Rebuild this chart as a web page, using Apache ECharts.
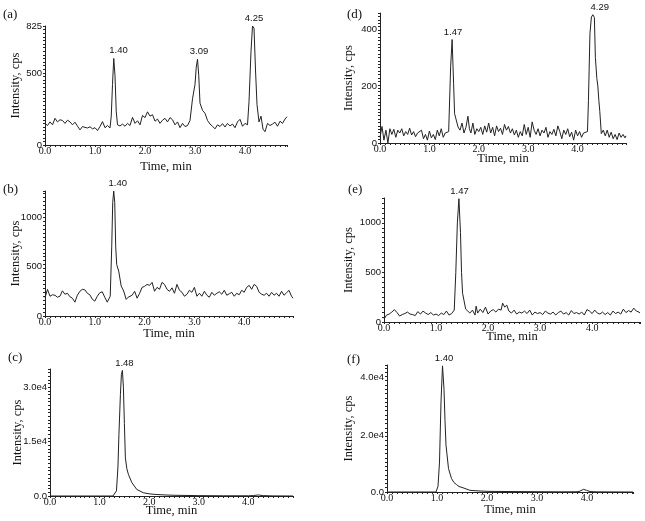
<!DOCTYPE html>
<html>
<head>
<meta charset="utf-8">
<title>Chromatograms</title>
<script src="https://cdn.jsdelivr.net/npm/echarts@6/dist/echarts.min.js"></script>
<style>
  html, body { margin: 0; padding: 0; background: #fff; }
  #myChart { width: 645px; height: 521px; }
</style>
</head>
<body>
<div id="myChart"></div>
<script>
// (a)
const aTime = [0.00, 0.05, 0.10, 0.15, 0.20, 0.25, 0.30, 0.35, 0.40, 0.45, 0.50, 0.55, 0.60, 0.65, 0.70, 0.75, 0.80, 0.85, 0.90, 0.95,
  1.00, 1.05, 1.10, 1.15, 1.20, 1.25, 1.30, 1.325, 1.35, 1.375, 1.40, 1.425, 1.45, 1.50, 1.55, 1.60, 1.65, 1.70, 1.75, 1.80,
  1.85, 1.90, 1.95, 2.00, 2.05, 2.10, 2.15, 2.20, 2.25, 2.30, 2.35, 2.40, 2.45, 2.50, 2.55, 2.60, 2.65, 2.70, 2.75, 2.80,
  2.85, 2.90, 2.95, 3.00, 3.025, 3.05, 3.075, 3.10, 3.15, 3.20, 3.25, 3.30, 3.35, 3.40, 3.45, 3.50, 3.55, 3.60, 3.65, 3.70,
  3.75, 3.80, 3.85, 3.90, 3.95, 4.00, 4.05, 4.08, 4.12, 4.15, 4.18, 4.21, 4.24, 4.28, 4.32, 4.36, 4.40, 4.45, 4.50, 4.55,
  4.60, 4.65, 4.70, 4.75, 4.80, 4.84]
const aInt = [150, 135, 160, 140, 185, 160, 175, 170, 150, 172, 160, 140, 158, 130, 105, 128, 122, 118, 126, 112,
  120, 100, 128, 162, 120, 135, 118, 200, 420, 600, 480, 230, 140, 132, 145, 130, 150, 135, 192, 150,
  168, 140, 205, 190, 230, 200, 210, 165, 180, 150, 172, 185, 160, 190, 175, 140, 160, 120, 150, 128,
  135, 170, 320, 420, 540, 595, 480, 290, 240, 220, 170, 145, 130, 112, 140, 128, 148, 125, 150, 132,
  145, 120, 160, 178, 130, 150, 140, 300, 650, 825, 810, 520, 280, 160, 200, 110, 92, 150, 135, 145,
  158, 130, 165, 150, 180, 196]
const aPeakTime = [1.47, 3.08, 4.18]
const aPeakInt = [603, 596, 825]
const aPeakText = ['1.40', '3.09', '4.25']
const aYLabels = [0, 500, 825]

// (b)
const bTime = [0.00, 0.05, 0.10, 0.15, 0.20, 0.25, 0.30, 0.35, 0.40, 0.45, 0.50, 0.55, 0.60, 0.65, 0.70, 0.75, 0.80, 0.85, 0.90, 0.95,
  1.00, 1.05, 1.10, 1.15, 1.20, 1.25, 1.28, 1.31, 1.34, 1.36, 1.38, 1.40, 1.42, 1.44, 1.48, 1.53, 1.58, 1.63, 1.67, 1.71,
  1.75, 1.80, 1.85, 1.90, 1.95, 2.00, 2.05, 2.10, 2.15, 2.20, 2.25, 2.30, 2.35, 2.40, 2.45, 2.50, 2.55, 2.60, 2.65, 2.70,
  2.75, 2.80, 2.85, 2.90, 2.95, 3.00, 3.05, 3.10, 3.15, 3.20, 3.25, 3.30, 3.35, 3.40, 3.45, 3.50, 3.55, 3.60, 3.65, 3.70,
  3.75, 3.80, 3.85, 3.90, 3.95, 4.00, 4.05, 4.10, 4.15, 4.20, 4.25, 4.30, 4.35, 4.40, 4.45, 4.50, 4.55, 4.60, 4.65, 4.70,
  4.75, 4.80, 4.85, 4.90, 4.95, 4.98]
const bInt = [185, 270, 200, 215, 210, 190, 200, 255, 220, 230, 195, 180, 140, 210, 250, 270, 265, 230, 215, 170,
  150, 200, 235, 245, 190, 140, 160, 200, 700, 1150, 1264, 1150, 700, 520, 455, 303, 253, 168, 190, 175,
  210, 250, 180, 230, 290, 300, 320, 310, 340, 250, 290, 270, 340, 320, 270, 250, 285, 230, 320, 260,
  240, 200, 220, 260, 240, 290, 200, 230, 200, 250, 210, 190, 240, 210, 230, 245, 220, 260, 210, 225,
  240, 200, 230, 215, 260, 240, 290, 310, 270, 320, 300, 240, 220, 210, 230, 200, 240, 210, 230, 200,
  250, 210, 235, 260, 200, 180]
const bPeakTime = [1.46]
const bPeakInt = [1264]
const bPeakText = ['1.40']
const bYLabels = [0, 500, 1000]

// (c)
const cTime = [0.00, 1.00, 1.27, 1.30, 1.34, 1.37, 1.39, 1.42, 1.44, 1.46, 1.48, 1.50, 1.52, 1.55, 1.58, 1.65, 1.75, 1.88, 2.00, 2.10,
  2.30, 2.50, 3.00, 3.50, 4.00, 4.10, 4.20, 4.30, 4.50, 4.90]
const cInt = [0, 0, 0, 400, 1400, 8000, 17000, 28000, 33500, 34600, 30000, 20000, 10500, 7500, 6000, 3700, 1800, 900, 600, 460,
  300, 200, 100, 60, 60, 120, 280, 100, 30, 0]
const cPeakTime = [1.50]
const cPeakInt = [34600]
const cPeakText = ['1.48']
const cYLabels = [0, 15000, 30000]

// (d)
const dTime = [0.00, 0.04, 0.08, 0.12, 0.16, 0.20, 0.24, 0.28, 0.32, 0.36, 0.40, 0.44, 0.48, 0.52, 0.56, 0.60, 0.64, 0.68, 0.72, 0.76,
  0.80, 0.84, 0.88, 0.92, 0.96, 1.00, 1.04, 1.08, 1.12, 1.16, 1.20, 1.24, 1.28, 1.32, 1.36, 1.39, 1.43, 1.46, 1.49, 1.51,
  1.54, 1.58, 1.62, 1.66, 1.70, 1.74, 1.78, 1.81, 1.84, 1.88, 1.92, 1.96, 2.00, 2.04, 2.08, 2.12, 2.16, 2.20, 2.24, 2.28,
  2.32, 2.36, 2.40, 2.44, 2.48, 2.52, 2.56, 2.60, 2.64, 2.68, 2.72, 2.76, 2.80, 2.84, 2.88, 2.92, 2.96, 3.00, 3.04, 3.08,
  3.12, 3.16, 3.20, 3.24, 3.28, 3.32, 3.36, 3.40, 3.44, 3.48, 3.52, 3.56, 3.60, 3.64, 3.68, 3.72, 3.76, 3.80, 3.84, 3.88,
  3.92, 3.96, 4.00, 4.04, 4.08, 4.12, 4.16, 4.20, 4.22, 4.25, 4.28, 4.31, 4.34, 4.36, 4.39, 4.41, 4.43, 4.45, 4.48, 4.52,
  4.56, 4.60, 4.64, 4.68, 4.72, 4.76, 4.80, 4.84, 4.88, 4.92, 4.96, 4.98]
const dInt = [20, 58, 10, 45, 0, 50, 30, 48, 20, 45, 35, 50, 25, 40, 30, 52, 28, 40, 22, 35,
  28, 45, 15, 30, 10, 42, 18, 30, 12, 45, 25, 50, 20, 35, 30, 40, 267, 363, 208, 103,
  97, 56, 45, 70, 35, 55, 94, 50, 35, 70, 30, 50, 40, 55, 30, 60, 38, 70, 35, 55,
  25, 60, 40, 52, 30, 65, 45, 58, 35, 50, 28, 45, 20, 40, 25, 65, 30, 55, 20, 74,
  45, 30, 50, 25, 45, 35, 55, 20, 40, 30, 48, 25, 60, 40, 15, 45, 30, 50, 22, 38,
  10, 45, 25, 40, 20, 35, 30, 40, 150, 384, 442, 450, 440, 300, 226, 200, 150, 110, 33, 45,
  25, 45, 20, 38, 15, 30, 12, 35, 20, 30, 18, 25]
const dPeakTime = [1.48, 4.45]
const dPeakInt = [363, 450]
const dPeakText = ['1.47', '4.29']
const dYLabels = [0, 200, 400]

// (e)
const eTime = [0.00, 0.05, 0.10, 0.15, 0.20, 0.25, 0.30, 0.35, 0.40, 0.45, 0.50, 0.55, 0.60, 0.65, 0.70, 0.75, 0.80, 0.85, 0.90, 0.95,
  1.00, 1.05, 1.10, 1.15, 1.20, 1.25, 1.30, 1.35, 1.38, 1.41, 1.44, 1.47, 1.49, 1.51, 1.54, 1.57, 1.60, 1.65, 1.70, 1.75,
  1.77, 1.80, 1.85, 1.90, 1.95, 2.00, 2.05, 2.10, 2.15, 2.20, 2.25, 2.28, 2.32, 2.36, 2.40, 2.45, 2.50, 2.55, 2.60, 2.65,
  2.70, 2.75, 2.80, 2.85, 2.90, 2.95, 3.00, 3.05, 3.10, 3.15, 3.20, 3.25, 3.30, 3.35, 3.40, 3.45, 3.50, 3.55, 3.60, 3.65,
  3.70, 3.75, 3.80, 3.85, 3.90, 3.95, 4.00, 4.05, 4.10, 4.15, 4.20, 4.25, 4.30, 4.35, 4.40, 4.45, 4.50, 4.55, 4.60, 4.65,
  4.70, 4.75, 4.80, 4.85, 4.90, 4.92]
const eInt = [30, 70, 80, 100, 125, 95, 60, 75, 85, 100, 80, 75, 65, 105, 80, 110, 90, 75, 95, 70,
  80, 65, 90, 75, 110, 70, 85, 120, 500, 1000, 1243, 900, 500, 290, 270, 130, 110, 90, 120, 70,
  160, 90, 130, 95, 150, 80, 110, 125, 100, 130, 120, 190, 150, 170, 110, 90, 120, 80, 100, 90,
  110, 85, 120, 70, 100, 85, 95, 75, 110, 90, 80, 100, 70, 95, 110, 80, 95, 70, 115, 85,
  95, 80, 100, 70, 125, 110, 85, 120, 90, 80, 100, 75, 95, 70, 110, 85, 100, 80, 130, 95,
  115, 100, 140, 110, 100, 90]
const ePeakTime = [1.45]
const ePeakInt = [1243]
const ePeakText = ['1.47']
const eYLabels = [0, 500, 1000]

// (f)
const fTime = [0.00, 0.98, 1.02, 1.05, 1.08, 1.11, 1.14, 1.16, 1.18, 1.23, 1.29, 1.34, 1.39, 1.44, 1.47, 1.50, 1.54, 1.66, 1.80, 2.00,
  2.50, 3.00, 3.50, 3.80, 3.86, 3.93, 3.99, 4.06, 4.20, 4.92]
const fInt = [0, 0, 2000, 10500, 31600, 44200, 36000, 25000, 16400, 8200, 4700, 3300, 2600, 1900, 2100, 1600, 940, 585, 400, 230,
  150, 100, 60, 80, 300, 940, 585, 150, 50, 0]
const fPeakTime = [1.14]
const fPeakInt = [44200]
const fPeakText = ['1.40']
const fYLabels = [0, 20000, 40000]

const xLabels = [0, 1, 2, 3, 4]

const serif = 'Liberation Serif'
const sans = 'Liberation Sans'
const ink = '#222222'

function sciLabel(v) {
  if (v === 0) return '0.0'
  return (v / 10000).toFixed(1) + 'e4'
}

// one entry per small chart
const panels = [
  { tag: '(a)', time: aTime, val: aInt, pt: aPeakTime, pv: aPeakInt, ptext: aPeakText, yLabels: aYLabels,
    grid: { left: 45, top: 26, width: 242, height: 119 }, xMax: 4.84, yMax: 825, yStep: 25,
    xGap: 15, yGap: 23, tagPos: [3, 8] },
  { tag: '(b)', time: bTime, val: bInt, pt: bPeakTime, pv: bPeakInt, ptext: bPeakText, yLabels: bYLabels,
    grid: { left: 45, top: 191, width: 248, height: 125 }, xMax: 4.98, yMax: 1265, yStep: 40,
    xGap: 11.5, yGap: 23, tagPos: [3, 183] },
  { tag: '(c)', time: cTime, val: cInt, pt: cPeakTime, pv: cPeakInt, ptext: cPeakText, yLabels: cYLabels, sci: true,
    grid: { left: 50, top: 369, width: 243, height: 127 }, xMax: 4.9, yMax: 35000, yStep: 1000,
    xGap: 8.5, yGap: 26, tagPos: [8, 351] },
  { tag: '(d)', time: dTime, val: dInt, pt: dPeakTime, pv: dPeakInt, ptext: dPeakText, yLabels: dYLabels,
    grid: { left: 380, top: 13, width: 246, height: 130 }, xMax: 4.98, yMax: 456, yStep: 12,
    xGap: 9, yGap: 25, tagPos: [347, 8] },
  { tag: '(e)', time: eTime, val: eInt, pt: ePeakTime, pv: ePeakInt, ptext: ePeakText, yLabels: eYLabels,
    grid: { left: 384, top: 198, width: 256, height: 124 }, xMax: 4.92, yMax: 1250, yStep: 50,
    xGap: 8.5, yGap: 29, tagPos: [348, 183] },
  { tag: '(f)', time: fTime, val: fInt, pt: fPeakTime, pv: fPeakInt, ptext: fPeakText, yLabels: fYLabels, sci: true,
    grid: { left: 387, top: 365, width: 246, height: 127 }, xMax: 4.92, yMax: 44500, yStep: 1500,
    xGap: 11.5, yGap: 32, tagPos: [347, 353] }
]

const option = {
  backgroundColor: '#ffffff',
  animation: false,
  grid: [],
  xAxis: [],
  yAxis: [],
  series: [],
  graphic: []
}

panels.forEach((p, i) => {
  option.grid.push(Object.assign({ outerBoundsMode: 'none', containLabel: false }, p.grid))
  option.xAxis.push({
    type: 'value',
    gridIndex: i,
    min: 0,
    max: p.xMax,
    interval: 0.1,
    name: 'Time, min',
    nameLocation: 'middle',
    nameGap: p.xGap,
    nameMoveOverlap: false,
    nameTextStyle: { fontFamily: serif, fontSize: 12.5, color: '#111' },
    axisLine: { show: true, onZero: false, lineStyle: { color: ink, width: 1 } },
    axisTick: { show: true, length: 2, lineStyle: { color: ink } },
    splitLine: { show: false },
    axisLabel: {
      customValues: xLabels,
      formatter: v => v.toFixed(1),
      fontFamily: serif,
      fontSize: 10,
      color: '#111',
      margin: 1
    }
  })
  option.yAxis.push({
    type: 'value',
    gridIndex: i,
    min: 0,
    max: p.yMax,
    interval: p.yStep,
    name: 'Intensity, cps',
    nameLocation: 'middle',
    nameGap: p.yGap,
    nameMoveOverlap: false,
    nameTextStyle: { fontFamily: serif, fontSize: 12.5, color: '#111' },
    axisLine: { show: true, lineStyle: { color: ink, width: 1 } },
    axisTick: { show: true, length: 2, lineStyle: { color: ink } },
    splitLine: { show: false },
    axisLabel: {
      customValues: p.yLabels,
      formatter: p.sci ? sciLabel : v => String(v),
      fontFamily: sans,
      fontSize: 9.5,
      color: '#111',
      margin: 3
    }
  })
  option.series.push({
    type: 'line',
    xAxisIndex: i,
    yAxisIndex: i,
    showSymbol: false,
    symbol: 'none',
    lineStyle: { color: ink, width: 1 },
    data: p.time.map((t, k) => [t, p.val[k]]),
    markPoint: {
      symbol: 'rect',
      symbolSize: 1,
      silent: true,
      itemStyle: { color: 'rgba(0,0,0,0)' },
      label: {
        show: true,
        position: 'top',
        distance: 2,
        formatter: '{b}',
        fontFamily: sans,
        fontSize: 9.5,
        color: '#111'
      },
      data: p.pt.map((t, k) => ({ name: p.ptext[k], coord: [t, p.pv[k]] }))
    }
  })
  option.graphic.push({
    type: 'text',
    left: p.tagPos[0],
    top: p.tagPos[1],
    style: { text: p.tag, font: '13px "Liberation Serif"', fill: '#111' }
  })
})

const myChart = echarts.init(document.getElementById('myChart'))
myChart.setOption(option)
</script>
</body>
</html>
